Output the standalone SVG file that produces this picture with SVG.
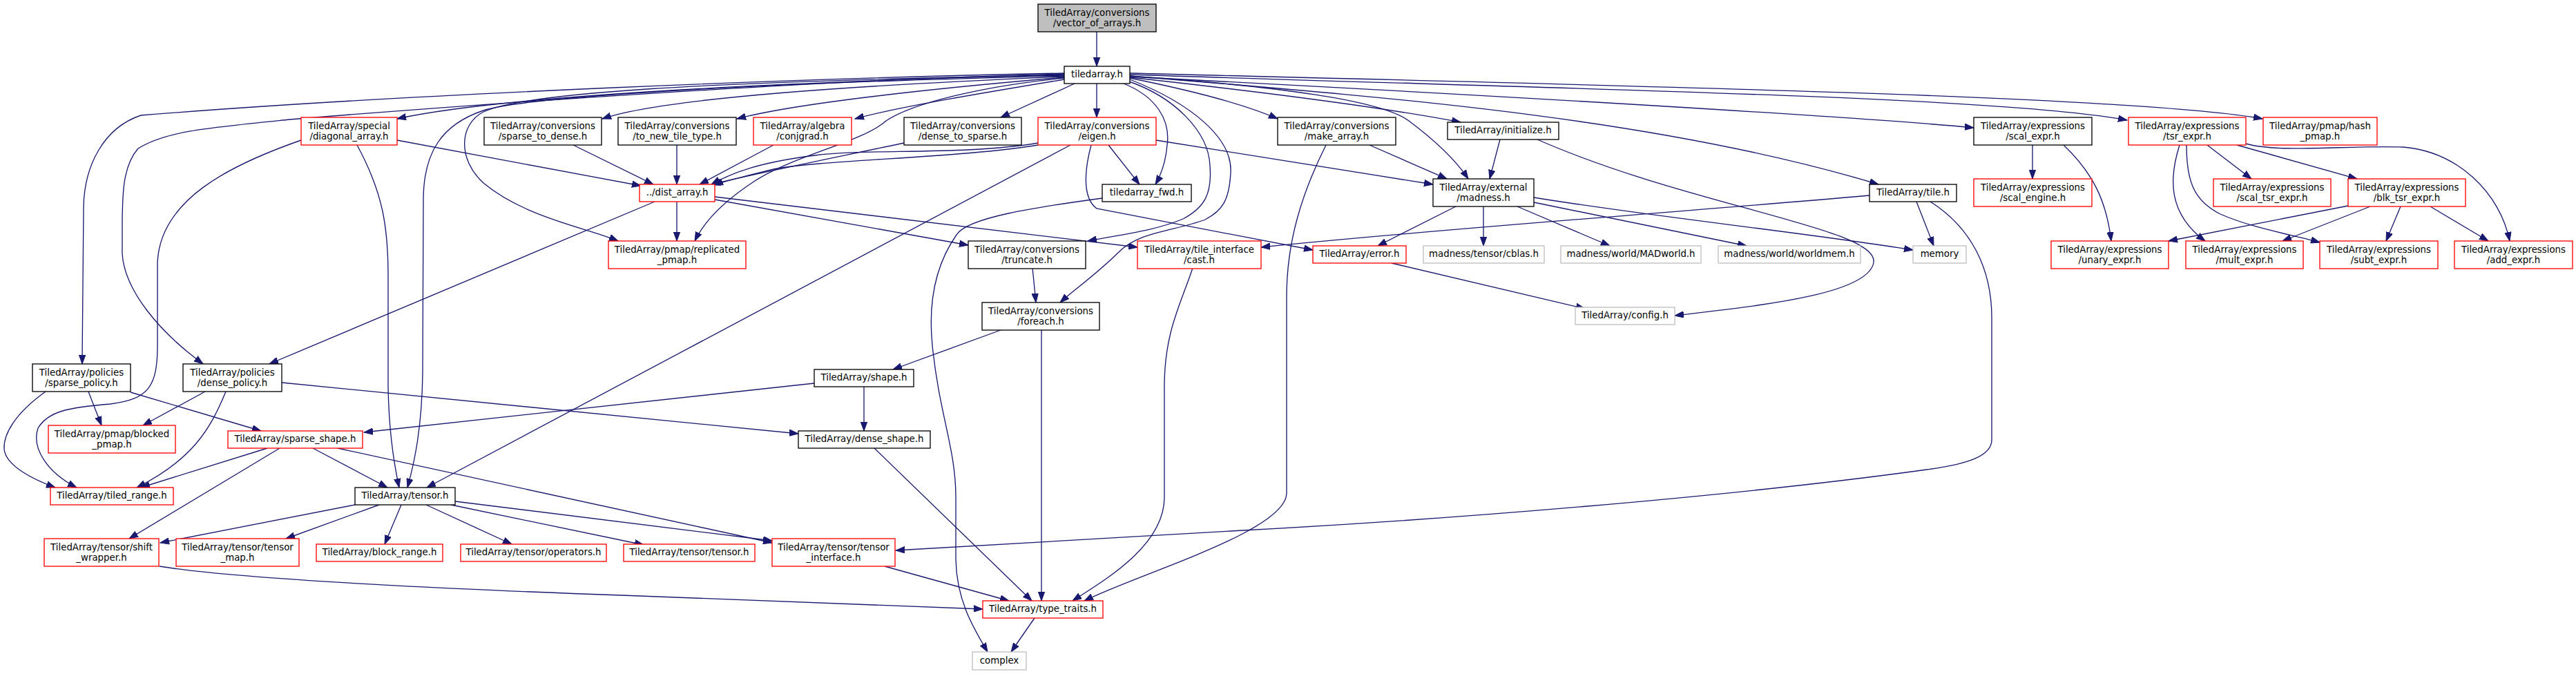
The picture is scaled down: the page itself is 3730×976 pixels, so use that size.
<svg xmlns="http://www.w3.org/2000/svg" width="3730" height="976" viewBox="0 0 3730 976">
<defs>
<style>
rect{fill:#fff;stroke-width:1.33}
.k{stroke:#000}
.r{stroke:#ff0000}
.g{stroke:#bfbfbf}
.root{fill:#bfbfbf;stroke:#000}
text{font-family:"DejaVu Sans","Liberation Sans",sans-serif;font-size:13.33px;fill:#000;text-anchor:middle}
#edges path{fill:none;stroke:#191970;stroke-width:1.33;marker-end:url(#a)}
</style>
<marker id="a" markerUnits="userSpaceOnUse" markerWidth="14" markerHeight="10" refX="13" refY="5" orient="auto"><path d="M0,0.3 L13,5 L0,9.7 z" fill="#191970" stroke="#191970" stroke-width="1"/></marker>
</defs>
<rect x="0" y="0" width="3730" height="976" style="fill:#fff;stroke:none"/>
<g id="edges">
<path d="M1588,46 L1588,96"/>
<path d="M1541,108 C1100,120 720,140 575,172"/>
<path d="M1541,111 C1200,125 950,145 872,172"/>
<path d="M1541,112 C1350,128 1150,150 1067,172"/>
<path d="M1541,115 C1420,135 1300,155 1238,172"/>
<path d="M1556,121 L1449,170"/>
<path d="M1588,121 L1588,170"/>
<path d="M1541,113 C1420,125 1320,150 1283,175 C1250,205 1150,225 1093,262 C1050,290 1020,320 1006,349"/>
<path d="M1541,109 C1000,118 760,135 700,162 C665,180 662,230 700,265 C760,315 850,330 895,349"/>
<path d="M1541,106 C1200,112 600,135 204,167 C150,185 122,240 121,300 L119,527"/>
<path d="M1541,107 C1200,115 700,150 420,173 C300,185 240,190 200,215 C178,240 177,280 177,330 L177,367 C180,420 230,480 294,527"/>
<path d="M1541,110 C1100,120 760,140 700,160 C640,180 613,220 613,290 L612,540 C611,620 600,670 590,706"/>
<path d="M1503,207 C1400,225 1250,215 1180,225 C1100,235 1060,250 1030,267"/>
<path d="M1503,210 C1400,228 1180,232 1120,245 C1080,255 1050,262 1034,268"/>
<path d="M575,203 L928,269"/>
<path d="M830,210 L946,267"/>
<path d="M980,210 L980,267"/>
<path d="M1120,210 L1013,267"/>
<path d="M1309,207 C1200,230 1100,250 1030,267"/>
<path d="M1605,210 L1650,267"/>
<path d="M1627,121 C1675,140 1695,175 1690,210 C1688,235 1680,255 1673,267"/>
<path d="M1632,117 C1700,140 1750,190 1752,240 C1755,280 1745,300 1713,317 C1670,335 1620,340 1575,349"/>
<path d="M1636,115 C1725,150 1785,200 1782,250 C1780,290 1770,305 1745,318 C1700,335 1650,335 1620,365 C1590,395 1555,420 1535,438"/>
<path d="M1550,210 L618,706"/>
<path d="M1580,210 C1572,240 1565,285 1588,302 L1901,362"/>
<path d="M1674,203 L2075,267"/>
<path d="M1636,113 C1720,130 1800,150 1850,172"/>
<path d="M1636,112 C1800,130 2000,155 2115,177"/>
<path d="M1636,110 C1850,125 2000,145 2040,175 C2080,205 2110,235 2126,259"/>
<path d="M1636,110 C2000,140 2400,170 2720,267"/>
<path d="M1636,111 C2200,140 2700,170 2858,185"/>
<path d="M1636,108 C2300,130 2900,140 3080,174"/>
<path d="M1636,106 C2400,125 3100,140 3276,172"/>
<path d="M1983,210 L2095,259"/>
<path d="M1920,210 C1885,280 1863,350 1863,430 L1863,715 C1860,770 1650,830 1570,870"/>
<path d="M2172,202 L2157,259"/>
<path d="M2226,202 C2450,300 2720,330 2713,380 C2705,430 2520,445 2425,457"/>
<path d="M2108,299 L1995,356"/>
<path d="M2148,299 L2148,356"/>
<path d="M2197,299 L2331,356"/>
<path d="M2221,293 L2529,356"/>
<path d="M2221,286 C2400,315 2600,335 2770,362"/>
<path d="M2015,381 L2295,447"/>
<path d="M2707,283 C2400,310 2100,330 1826,358"/>
<path d="M2775,292 L2800,356"/>
<path d="M2795,292 C2855,330 2884,390 2884,460 L2884,637 C2884,660 2850,672 2790,680 C2500,720 2100,752 1800,768 L1297,797"/>
<path d="M2943,210 L2943,259"/>
<path d="M2988,210 C3030,250 3050,290 3057,349"/>
<path d="M3156,210 C3140,260 3140,310 3193,349"/>
<path d="M3166,210 C3166,260 3175,290 3215,310 C3260,330 3320,340 3359,351"/>
<path d="M3196,210 L3260,259"/>
<path d="M3239,210 L3413,259"/>
<path d="M3252,208 C3300,222 3400,210 3480,213 C3560,220 3620,280 3634,349"/>
<path d="M3400,298 L3140,349"/>
<path d="M3432,299 L3305,349"/>
<path d="M3476,299 L3455,349"/>
<path d="M3519,299 L3603,349"/>
<path d="M980,292 L980,349"/>
<path d="M1035,289 L1402,355"/>
<path d="M1035,285 L1647,358"/>
<path d="M948,292 L390,527"/>
<path d="M1596,287 C1500,300 1400,315 1385,340 C1350,390 1345,450 1350,500 C1360,600 1384,650 1384,720 L1384,810 C1385,870 1410,910 1430,944"/>
<path d="M1495,388 L1500,438"/>
<path d="M1449,478 L1293,535"/>
<path d="M1508,478 L1508,870"/>
<path d="M1727,388 C1710,440 1686,480 1686,560 L1686,720 C1686,790 1600,840 1553,870"/>
<path d="M1179,555 L527,626"/>
<path d="M1251,560 L1251,624"/>
<path d="M66,567 C20,600 5,630 6,650 C8,675 50,695 80,706"/>
<path d="M128,567 L147,616"/>
<path d="M189,568 L378,624"/>
<path d="M297,567 L207,616"/>
<path d="M327,567 C305,620 280,665 198,706"/>
<path d="M408,554 L1156,628"/>
<path d="M436,203 C330,240 232,290 228,380 L228,500 C228,560 215,578 160,585 C100,590 70,595 55,620 C45,650 70,685 111,706"/>
<path d="M517,210 C555,280 562,330 562,400 L562,560 C563,620 570,670 578,706"/>
<path d="M387,649 L204,706"/>
<path d="M405,649 L187,780"/>
<path d="M453,649 L561,706"/>
<path d="M489,649 L1118,786"/>
<path d="M514,731 L232,786"/>
<path d="M549,731 L414,780"/>
<path d="M581,731 L557,788"/>
<path d="M617,731 L741,788"/>
<path d="M653,731 L932,789"/>
<path d="M659,726 L1118,783"/>
<path d="M231,820 C350,840 700,855 900,862 C1150,870 1300,876 1423,882"/>
<path d="M1281,820 L1461,870"/>
<path d="M1266,649 L1494,870"/>
<path d="M1498,895 L1464,944"/>
</g>
<g id="n_root"><rect class="root" x="1503" y="6" width="171" height="40"/><text x="1588.5" y="23">TiledArray/conversions</text><text x="1588.5" y="38">/vector_of_arrays.h</text></g>
<g id="n_tiledarray"><rect class="k" x="1541" y="96" width="95" height="25"/><text x="1588.5" y="112">tiledarray.h</text></g>
<g id="n_diagonal"><rect class="r" x="436" y="170" width="139" height="40"/><text x="505.5" y="187">TiledArray/special</text><text x="505.5" y="202">/diagonal_array.h</text></g>
<g id="n_s2d"><rect class="k" x="701" y="170" width="170" height="40"/><text x="786" y="187">TiledArray/conversions</text><text x="786" y="202">/sparse_to_dense.h</text></g>
<g id="n_tonew"><rect class="k" x="895" y="170" width="171" height="40"/><text x="980.5" y="187">TiledArray/conversions</text><text x="980.5" y="202">/to_new_tile_type.h</text></g>
<g id="n_conjgrad"><rect class="r" x="1091" y="170" width="142" height="40"/><text x="1162" y="187">TiledArray/algebra</text><text x="1162" y="202">/conjgrad.h</text></g>
<g id="n_d2s"><rect class="k" x="1309" y="170" width="170" height="40"/><text x="1394" y="187">TiledArray/conversions</text><text x="1394" y="202">/dense_to_sparse.h</text></g>
<g id="n_eigen"><rect class="r" x="1503" y="170" width="171" height="40"/><text x="1588.5" y="187">TiledArray/conversions</text><text x="1588.5" y="202">/eigen.h</text></g>
<g id="n_make"><rect class="k" x="1850" y="170" width="171" height="40"/><text x="1935.5" y="187">TiledArray/conversions</text><text x="1935.5" y="202">/make_array.h</text></g>
<g id="n_init"><rect class="k" x="2096" y="177" width="161" height="25"/><text x="2176.5" y="193">TiledArray/initialize.h</text></g>
<g id="n_scal_expr"><rect class="k" x="2858" y="170" width="171" height="40"/><text x="2943.5" y="187">TiledArray/expressions</text><text x="2943.5" y="202">/scal_expr.h</text></g>
<g id="n_tsr_expr"><rect class="r" x="3082" y="170" width="170" height="40"/><text x="3167" y="187">TiledArray/expressions</text><text x="3167" y="202">/tsr_expr.h</text></g>
<g id="n_hash"><rect class="r" x="3277" y="170" width="165" height="40"/><text x="3359.5" y="187">TiledArray/pmap/hash</text><text x="3359.5" y="202">_pmap.h</text></g>
<g id="n_dist"><rect class="r" x="926" y="267" width="109" height="25"/><text x="980.5" y="283">../dist_array.h</text></g>
<g id="n_fwd"><rect class="k" x="1596" y="267" width="129" height="25"/><text x="1660.5" y="283">tiledarray_fwd.h</text></g>
<g id="n_madness"><rect class="k" x="2075" y="259" width="146" height="40"/><text x="2148" y="276">TiledArray/external</text><text x="2148" y="291">/madness.h</text></g>
<g id="n_tile"><rect class="k" x="2707" y="267" width="126" height="25"/><text x="2770" y="283">TiledArray/tile.h</text></g>
<g id="n_scal_engine"><rect class="r" x="2858" y="259" width="171" height="40"/><text x="2943.5" y="276">TiledArray/expressions</text><text x="2943.5" y="291">/scal_engine.h</text></g>
<g id="n_scal_tsr"><rect class="r" x="3205" y="259" width="170" height="40"/><text x="3290" y="276">TiledArray/expressions</text><text x="3290" y="291">/scal_tsr_expr.h</text></g>
<g id="n_blk"><rect class="r" x="3400" y="259" width="170" height="40"/><text x="3485" y="276">TiledArray/expressions</text><text x="3485" y="291">/blk_tsr_expr.h</text></g>
<g id="n_replicated"><rect class="r" x="881" y="349" width="199" height="40"/><text x="980.5" y="366">TiledArray/pmap/replicated</text><text x="980.5" y="381">_pmap.h</text></g>
<g id="n_truncate"><rect class="k" x="1402" y="349" width="170" height="40"/><text x="1487" y="366">TiledArray/conversions</text><text x="1487" y="381">/truncate.h</text></g>
<g id="n_cast"><rect class="r" x="1647" y="349" width="179" height="40"/><text x="1736.5" y="366">TiledArray/tile_interface</text><text x="1736.5" y="381">/cast.h</text></g>
<g id="n_error"><rect class="r" x="1901" y="356" width="135" height="25"/><text x="1968.5" y="372">TiledArray/error.h</text></g>
<g id="n_cblas"><rect class="g" x="2061" y="356" width="175" height="25"/><text x="2148.5" y="372">madness/tensor/cblas.h</text></g>
<g id="n_madworld"><rect class="g" x="2260" y="356" width="203" height="25"/><text x="2361.5" y="372">madness/world/MADworld.h</text></g>
<g id="n_worldmem"><rect class="g" x="2488" y="356" width="206" height="25"/><text x="2591" y="372">madness/world/worldmem.h</text></g>
<g id="n_memory"><rect class="g" x="2770" y="356" width="77" height="25"/><text x="2808.5" y="372">memory</text></g>
<g id="n_unary"><rect class="r" x="2970" y="349" width="170" height="40"/><text x="3055" y="366">TiledArray/expressions</text><text x="3055" y="381">/unary_expr.h</text></g>
<g id="n_mult"><rect class="r" x="3165" y="349" width="170" height="40"/><text x="3250" y="366">TiledArray/expressions</text><text x="3250" y="381">/mult_expr.h</text></g>
<g id="n_subt"><rect class="r" x="3359" y="349" width="171" height="40"/><text x="3444.5" y="366">TiledArray/expressions</text><text x="3444.5" y="381">/subt_expr.h</text></g>
<g id="n_add"><rect class="r" x="3554" y="349" width="171" height="40"/><text x="3639.5" y="366">TiledArray/expressions</text><text x="3639.5" y="381">/add_expr.h</text></g>
<g id="n_foreach"><rect class="k" x="1422" y="438" width="170" height="40"/><text x="1507" y="455">TiledArray/conversions</text><text x="1507" y="470">/foreach.h</text></g>
<g id="n_config"><rect class="g" x="2281" y="445" width="144" height="25"/><text x="2353" y="461">TiledArray/config.h</text></g>
<g id="n_sparse_policy"><rect class="k" x="47" y="527" width="142" height="40"/><text x="118" y="544">TiledArray/policies</text><text x="118" y="559">/sparse_policy.h</text></g>
<g id="n_dense_policy"><rect class="k" x="265" y="527" width="143" height="40"/><text x="336.5" y="544">TiledArray/policies</text><text x="336.5" y="559">/dense_policy.h</text></g>
<g id="n_shape"><rect class="k" x="1179" y="535" width="144" height="25"/><text x="1251" y="551">TiledArray/shape.h</text></g>
<g id="n_blocked"><rect class="r" x="70" y="616" width="184" height="40"/><text x="162" y="633">TiledArray/pmap/blocked</text><text x="162" y="648">_pmap.h</text></g>
<g id="n_sparse_shape"><rect class="r" x="330" y="624" width="195" height="25"/><text x="427.5" y="640">TiledArray/sparse_shape.h</text></g>
<g id="n_dense_shape"><rect class="k" x="1156" y="624" width="191" height="25"/><text x="1251.5" y="640">TiledArray/dense_shape.h</text></g>
<g id="n_tiled_range"><rect class="r" x="73" y="706" width="178" height="25"/><text x="162" y="722">TiledArray/tiled_range.h</text></g>
<g id="n_tensor"><rect class="k" x="514" y="706" width="145" height="25"/><text x="586.5" y="722">TiledArray/tensor.h</text></g>
<g id="n_shift"><rect class="r" x="64" y="780" width="166" height="40"/><text x="147" y="797">TiledArray/tensor/shift</text><text x="147" y="812">_wrapper.h</text></g>
<g id="n_tensor_map"><rect class="r" x="255" y="780" width="178" height="40"/><text x="344" y="797">TiledArray/tensor/tensor</text><text x="344" y="812">_map.h</text></g>
<g id="n_block_range"><rect class="r" x="458" y="788" width="183" height="25"/><text x="549.5" y="804">TiledArray/block_range.h</text></g>
<g id="n_operators"><rect class="r" x="667" y="788" width="211" height="25"/><text x="772.5" y="804">TiledArray/tensor/operators.h</text></g>
<g id="n_tensor_tensor"><rect class="r" x="903" y="788" width="190" height="25"/><text x="998" y="804">TiledArray/tensor/tensor.h</text></g>
<g id="n_tensor_interface"><rect class="r" x="1118" y="780" width="178" height="40"/><text x="1207" y="797">TiledArray/tensor/tensor</text><text x="1207" y="812">_interface.h</text></g>
<g id="n_type_traits"><rect class="r" x="1423" y="870" width="174" height="25"/><text x="1510" y="886">TiledArray/type_traits.h</text></g>
<g id="n_complex"><rect class="g" x="1408" y="944" width="78" height="26"/><text x="1447" y="961">complex</text></g>
</svg>
